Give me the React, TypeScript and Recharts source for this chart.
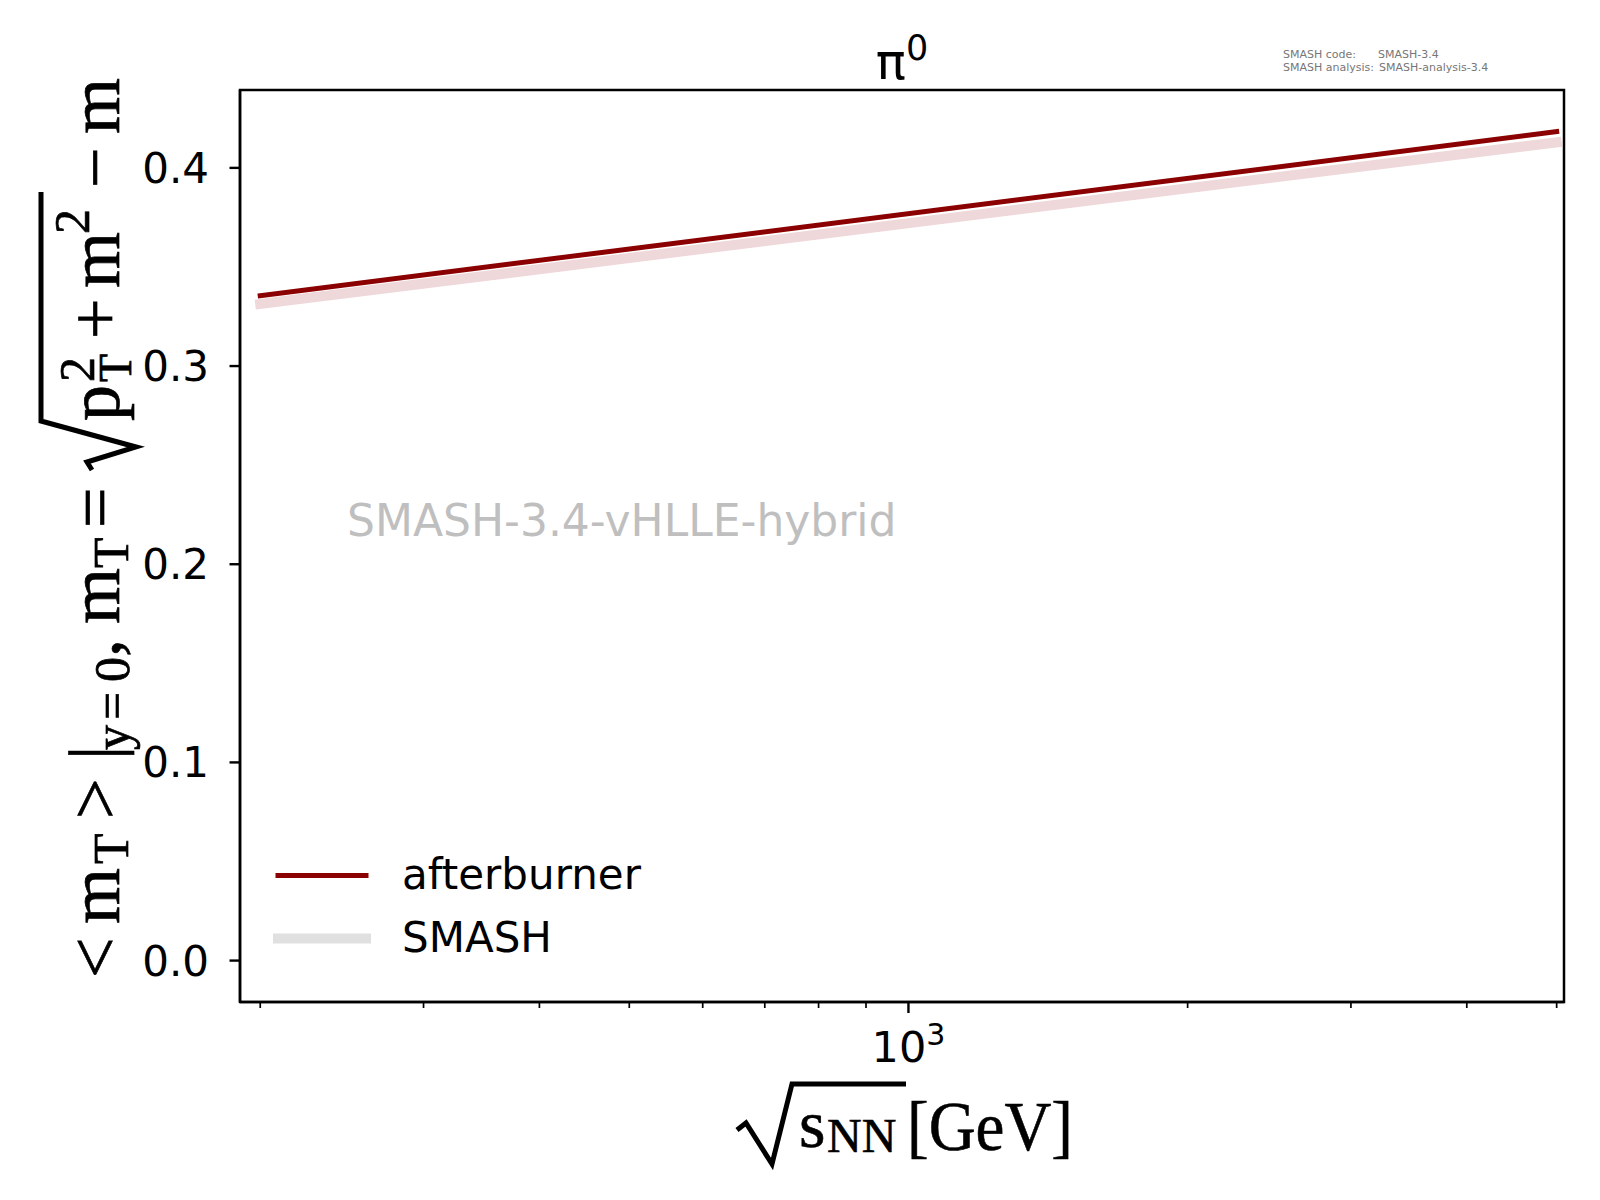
import React from "react";
import { LineChart, Line, XAxis, YAxis, ReferenceArea } from "recharts";

// ---- data ----
const energies = [200, 5000];
const afterburnerValues = [0.3355, 0.4183];
const smashValues = [0.3313, 0.4129];
const xTicks = [200, 300, 400, 500, 600, 700, 800, 900, 1000, 2000, 3000, 4000, 5000];
const xMajorTicks = [1000];
const yTicks = [0, 0.1, 0.2, 0.3, 0.4];
const xDomain = [190.2, 5092];
const yDomain = [-0.0209, 0.4393];

const data = energies.map((e, i) => ({
  sqrts: e,
  afterburner: afterburnerValues[i],
  smash: smashValues[i],
}));

const legendItems = [
  { name: "afterburner", color: "#8b0000", width: 5 },
  { name: "SMASH", color: "#e0e0e0", width: 10 },
];

const SANS = "DejaVu Sans";
const SERIF = "Liberation Serif";

const YTick = (props: any) => {
  const { x, y, payload } = props;
  return (
    <g>
      <line x1={x - 10.5} x2={x} y1={y} y2={y} stroke="#000" strokeWidth={2.4} />
      <text x={x - 31} y={y + 15} textAnchor="end" fontFamily={SANS} fontSize={42} fill="#000">
        {Number(payload.value).toFixed(1)}
      </text>
    </g>
  );
};

const XTick = (props: any) => {
  const { x, y, payload } = props;
  const major = xMajorTicks.includes(payload.value);
  return (
    <g>
      <line x1={x} x2={x} y1={y} y2={y + (major ? 11 : 6)} stroke="#000" strokeWidth={major ? 2.4 : 1.7} />
      {major ? (
        <text x={x} y={y + 60} textAnchor="middle" fontFamily={SANS} fontSize={43} fill="#000">
          <tspan>10</tspan>
          <tspan dy={-17} fontSize={30}>3</tspan>
        </text>
      ) : null}
    </g>
  );
};

const F = 72;
const S = 50;
const B = 119;

const YLabel = () => (
  <g>
    <text transform="rotate(-90)" fontFamily={SERIF} fill="#000" stroke="#000" strokeWidth={0.7} fontSize={F}>
      <tspan x={-978} y={B}>&lt;</tspan>
      <tspan x={-924} y={B}>m</tspan>
      <tspan x={-864} y={B + 9} fontSize={S}>T</tspan>
      <tspan x={-819} y={B}>&gt;</tspan>
      <tspan x={-760} y={B}>|</tspan>
      <tspan x={-750} y={B + 10} fontSize={S}>y</tspan>
      <tspan x={-720} y={B + 10} fontSize={S}>=</tspan>
      <tspan x={-682} y={B + 10} fontSize={S}>0</tspan>
      <tspan x={-657} y={B}>,</tspan>
      <tspan x={-624} y={B}>m</tspan>
      <tspan x={-568} y={B + 9} fontSize={S}>T</tspan>
      <tspan x={-528} y={B}>=</tspan>
      <tspan x={-421} y={B}>p</tspan>
      <tspan x={-382} y={B - 25} fontSize={S}>2</tspan>
      <tspan x={-382} y={B + 12} fontSize={46}>T</tspan>
      <tspan x={-339} y={B}>+</tspan>
      <tspan x={-288} y={B}>m</tspan>
      <tspan x={-234} y={B - 30} fontSize={S}>2</tspan>
      <tspan x={-188} y={B}>−</tspan>
      <tspan x={-134} y={B}>m</tspan>
    </text>
    <path d="M 92 470 L 87 462 L 136 447 L 41 421 L 41 192" fill="none" stroke="#000" strokeWidth={5} strokeLinejoin="miter" />
  </g>
);

const XLabel = () => (
  <g>
    <path d="M 737 1130 L 746 1123 L 772 1164 L 792 1084 L 906 1084" fill="none" stroke="#000" strokeWidth={5} />
    <text fontFamily={SERIF} fill="#000" stroke="#000" strokeWidth={0.6}>
      <tspan x={799} y={1147} fontSize={68}>s</tspan>
      <tspan x={827} y={1152} fontSize={48}>NN</tspan>
      <tspan x={907} y={1150} fontSize={70} textLength={166} lengthAdjust="spacingAndGlyphs">[GeV]</tspan>
    </text>
  </g>
);

export default function App() {
  return (
    <div style={{ position: "absolute", left: 0, top: 0, width: 1600, height: 1200, background: "#fff" }}>
      <LineChart
        width={1600}
        height={1200}
        data={data}
        margin={{ top: 90, right: 36, bottom: 0, left: 0 }}
      >
        <XAxis
          dataKey="sqrts"
          type="number"
          scale="log"
          domain={xDomain}
          allowDataOverflow
          ticks={xTicks}
          interval={0}
          height={198}
          tickSize={0}
          tickMargin={0}
          tickLine={false}
          tick={<XTick />}
          axisLine={{ stroke: "#000", strokeWidth: 2.5 }}
        />
        <YAxis
          type="number"
          domain={yDomain}
          allowDataOverflow
          ticks={yTicks}
          interval={0}
          width={240}
          tickSize={0}
          tickMargin={0}
          tickLine={false}
          tick={<YTick />}
          axisLine={{ stroke: "#000", strokeWidth: 2.5 }}
        />
        <Line
          dataKey="smash"
          type="linear"
          stroke="#eed8d9"
          strokeWidth={10}
          strokeLinecap="square"
          dot={false}
          activeDot={false}
          isAnimationActive={false}
        />
        <Line
          dataKey="afterburner"
          type="linear"
          stroke="#8b0000"
          strokeWidth={5}
          strokeLinecap="square"
          dot={false}
          activeDot={false}
          isAnimationActive={false}
        />
        <ReferenceArea
          x1={xDomain[0]}
          x2={xDomain[1]}
          y1={yDomain[0]}
          y2={yDomain[1]}
          ifOverflow="visible"
          fill="none"
          fillOpacity={0}
          stroke="#000"
          strokeWidth={2.5}
        />
      </LineChart>
      <svg
        width={1600}
        height={1200}
        style={{ position: "absolute", left: 0, top: 0, pointerEvents: "none" }}
      >
        <text x={902} y={79} textAnchor="middle" fontFamily={SANS} fontSize={50} fill="#000">
          <tspan>π</tspan>
          <tspan dy={-19} fontSize={35}>0</tspan>
        </text>
        <g fontFamily={SANS} fontSize={11} fill="#777">
          <text x={1283} y={58}>SMASH code:</text>
          <text x={1378} y={58}>SMASH-3.4</text>
          <text x={1283} y={71}>SMASH analysis:</text>
          <text x={1379} y={71}>SMASH-analysis-3.4</text>
        </g>
        <text x={347} y={536} fontFamily={SANS} fontSize={44} fill="#bfbfbf">
          SMASH-3.4-vHLLE-hybrid
        </text>
        {legendItems.map((it, i) => (
          <g key={it.name}>
            <line
              x1={278}
              x2={366}
              y1={875.5 + i * 63}
              y2={875.5 + i * 63}
              stroke={it.color}
              strokeWidth={it.width}
              strokeLinecap="square"
            />
            <text x={402} y={889 + i * 63} fontFamily={SANS} fontSize={42} fill="#000">
              {it.name}
            </text>
          </g>
        ))}
        <YLabel />
        <XLabel />
      </svg>
    </div>
  );
}
